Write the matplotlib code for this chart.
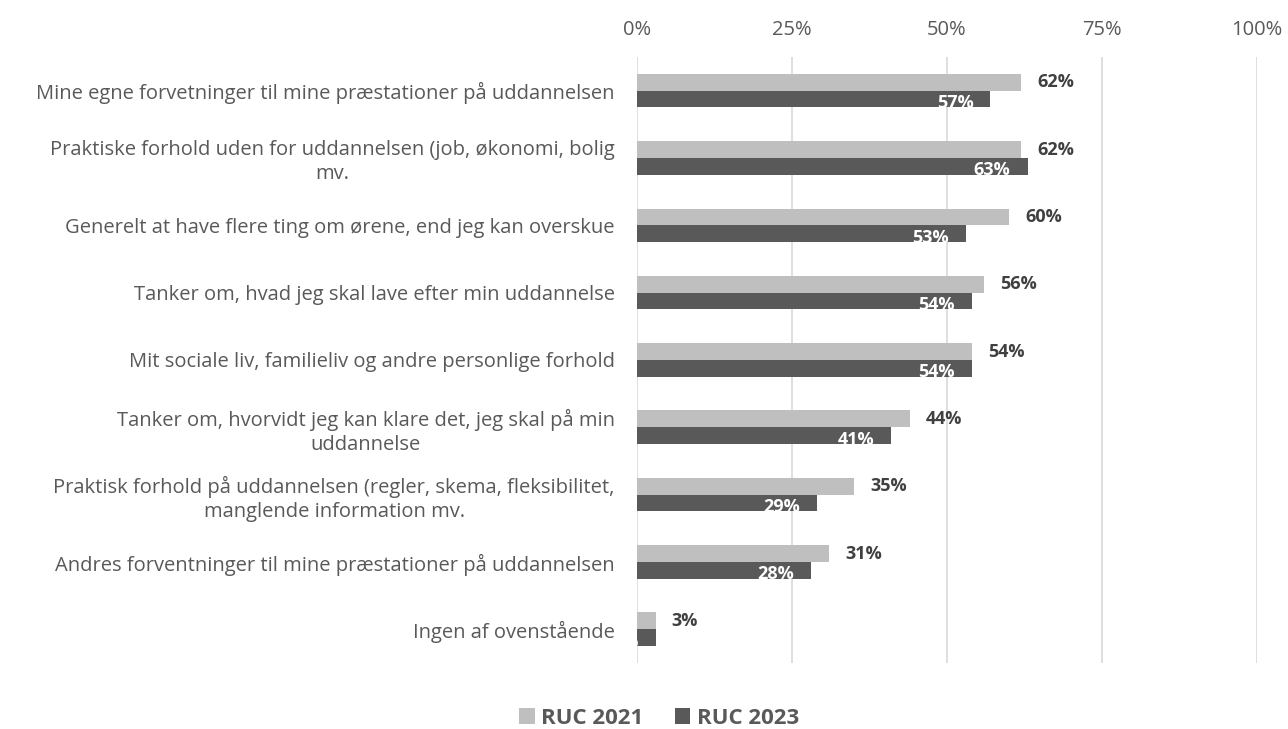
import matplotlib
matplotlib.use("Agg")
import matplotlib.pyplot as plt
from matplotlib.ticker import FuncFormatter
import numpy as np

categories = [
    "Mine egne forvetninger til mine præstationer på uddannelsen",
    "Praktiske forhold uden for uddannelsen (job, økonomi, bolig\nmv.",
    "Generelt at have flere ting om ørene, end jeg kan overskue",
    "Tanker om, hvad jeg skal lave efter min uddannelse",
    "Mit sociale liv, familieliv og andre personlige forhold",
    "Tanker om, hvorvidt jeg kan klare det, jeg skal på min\nuddannelse",
    "Praktisk forhold på uddannelsen (regler, skema, fleksibilitet,\nmanglende information mv.",
    "Andres forventninger til mine præstationer på uddannelsen",
    "Ingen af ovenstående",
]
ruc2021 = [62, 62, 60, 56, 54, 44, 35, 31, 3]
ruc2023 = [57, 63, 53, 54, 54, 41, 29, 28, 3]
series_names = ["RUC 2021", "RUC 2023"]
xticks = [0, 25, 50, 75, 100]

light = "#BFBFBF"
dark = "#595959"
txt = "#595959"

plt.rcParams['font.family'] = ['Open Sans', 'DejaVu Sans']

fig = plt.figure(figsize=(12.88, 7.29), dpi=100)
ax = fig.add_axes([637/1288, 1-663/729, 620/1288, (663-57)/729])

n = len(categories)
y = np.arange(n)
h = 0.25
b1 = ax.barh(y - h/2, ruc2021, height=h, color=light, label=series_names[0], zorder=2)
b2 = ax.barh(y + h/2, ruc2023, height=h, color=dark, label=series_names[1], zorder=2)

ax.set_ylim(n - 0.5, -0.5)
ax.set_xlim(0, 100)
ax.xaxis.tick_top()
ax.set_xticks(xticks)
ax.xaxis.set_major_formatter(FuncFormatter(lambda v, p: f"{v:.0f}%"))
ax.tick_params(axis='x', length=0, pad=12, labelsize=14.5, labelcolor=txt)
ax.set_yticks(y)
ax.set_yticklabels(categories, fontsize=14.5, color=txt, multialignment='center',
                   linespacing=1.25)
ax.tick_params(axis='y', length=0, pad=16)
ax.grid(axis='x', color="#D9D9D9", linewidth=1.2, zorder=0)
ax.set_axisbelow(True)
for s in ax.spines.values():
    s.set_visible(False)

for rect, v in zip(b1, ruc2021):
    ax.annotate(f"{v}%", xy=(v, rect.get_y() + rect.get_height()/2),
                xytext=(16, 0), textcoords="offset pixels",
                ha='left', va='center', fontsize=13, fontweight='bold', color="#404040")
for rect, v in zip(b2, ruc2023):
    t = ax.annotate(f"{v}%", xy=(v, rect.get_y() + rect.get_height()/2),
                    xytext=(-17, -4), textcoords="offset pixels",
                    ha='right', va='center', fontsize=13, fontweight='bold', color="white",
                    zorder=3)
    t.set_clip_path(rect)

fig.legend(handles=[b1, b2], labels=series_names, loc='center',
           bbox_to_anchor=(659/1288, 1-718/729), ncol=2, frameon=False,
           prop={'weight': 'bold', 'size': 16}, labelcolor=txt,
           handlelength=0.7, handleheight=0.7, handletextpad=0.3, columnspacing=1.4)

fig.savefig("out.png", dpi=100)
